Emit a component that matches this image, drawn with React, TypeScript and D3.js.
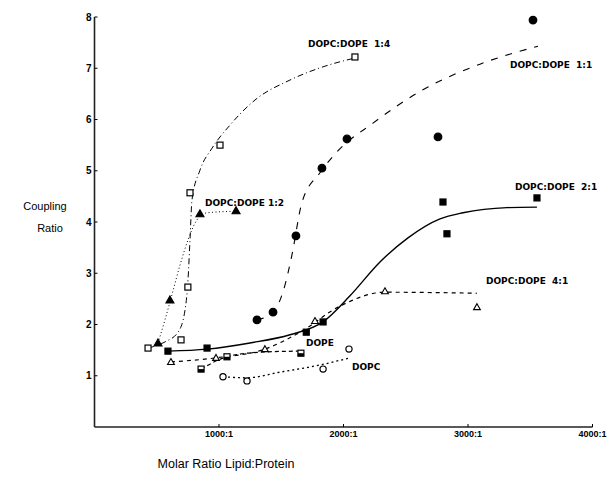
import React from "react";
import * as d3 from "d3";

// ---- data ----
// x = lipid:protein molar ratio, y = coupling ratio
type P = [number, number];

// measured points
const ptsR14: P[] = [[430, 1.54], [695, 1.7], [750, 2.73], [767, 4.57], [1008, 5.5], [2092, 7.22]];
const ptsR12: P[] = [[510, 1.64], [606, 2.48], [847, 4.16], [1137, 4.22]];
const ptsR11: P[] = [[1305, 2.09], [1434, 2.24], [1618, 3.73], [1827, 5.05], [2028, 5.62], [2759, 5.66], [3522, 7.94]];
const ptsR21: P[] = [[590, 1.48], [904, 1.54], [1701, 1.85], [1836, 2.05], [2799, 4.39], [2831, 3.77], [3554, 4.47]];
const ptsR41: P[] = [[614, 1.27], [976, 1.35], [1369, 1.52], [1771, 2.07], [2333, 2.65], [3072, 2.34]];
const ptsDOPE: P[] = [[856, 1.13], [1064, 1.37], [1658, 1.44]];
const ptsDOPC: P[] = [[1032, 0.98], [1225, 0.9], [1836, 1.13], [2044, 1.52]];

// hand-fitted curves
const fitR14: P[] = [[430, 1.54], [566, 1.66], [671, 1.85], [727, 2.28], [751, 2.87], [767, 3.65], [783, 4.43], [847, 5.01], [944, 5.44], [1088, 5.89], [1289, 6.38], [1570, 6.77], [1851, 7.04], [2092, 7.2]];
const fitR12: P[] = [[510, 1.64], [566, 2.09], [622, 2.58], [687, 3.16], [751, 3.65], [823, 4.04], [904, 4.18], [1137, 4.21]];
const fitR11: P[] = [[1305, 2.09], [1434, 2.24], [1530, 2.77], [1586, 3.36], [1667, 4.39], [1811, 4.96], [1948, 5.37], [2237, 5.93], [2638, 6.58], [3096, 7.08], [3562, 7.43]];
const fitR21: P[] = [[590, 1.48], [904, 1.52], [1249, 1.64], [1570, 1.8], [1835, 2.05], [2052, 2.56], [2293, 3.22], [2518, 3.69], [2775, 4.06], [2960, 4.18], [3313, 4.28], [3554, 4.29]];
const fitR41: P[] = [[614, 1.27], [976, 1.35], [1369, 1.52], [1651, 1.85], [1972, 2.36], [2333, 2.63], [3072, 2.61]];
const fitDOPE: P[] = [[856, 1.13], [1064, 1.37], [1329, 1.46], [1634, 1.48]];
const fitDOPC: P[] = [[1032, 0.98], [1225, 0.96], [1490, 1.07], [1811, 1.21], [2052, 1.35]];

const yTicks = [1, 2, 3, 4, 5, 6, 7, 8];
const xTicks = [1000, 2000, 3000, 4000];
const xTickLabels = ["1000:1", "2000:1", "3000:1", "4000:1"];

const W = 616;
const H = 480;
const LABEL_FONT = "'DejaVu Sans', sans-serif";
const AXIS_FONT = "'Liberation Sans', Arial, sans-serif";

const x = d3.scaleLinear().domain([0, 4000]).range([94.5, 592.5]);
const y = d3.scaleLinear().domain([0, 8]).range([427, 17]);
const line = d3
  .line<P>()
  .x((d) => x(d[0]))
  .y((d) => y(d[1]))
  .curve(d3.curveMonotoneX);

const Square = ({ d, fill }: { d: P; fill: string }) => (
  <rect x={x(d[0]) - 3} y={y(d[1]) - 3} width={6} height={6} fill={fill} stroke="#000" strokeWidth={1.2} />
);
const Circle = ({ d, fill }: { d: P; fill: string }) => (
  <circle cx={x(d[0])} cy={y(d[1])} r={fill === "#000" ? 3.8 : 3.1} fill={fill} stroke="#000" strokeWidth={1.2} />
);
const Tri = ({ d, fill }: { d: P; fill: string }) => {
  const cx = x(d[0]);
  const cy = y(d[1]);
  const s = fill === "#000" ? 4 : 3.4;
  return (
    <path
      d={`M${cx},${cy - s}L${cx + s},${cy + s * 0.75}L${cx - s},${cy + s * 0.75}Z`}
      fill={fill}
      stroke="#000"
      strokeWidth={1.1}
    />
  );
};
const HalfSquare = ({ d }: { d: P }) => {
  const cx = x(d[0]);
  const cy = y(d[1]);
  return (
    <g>
      <rect x={cx - 3} y={cy - 3} width={6} height={6} fill="#fff" stroke="#000" strokeWidth={1.2} />
      <rect x={cx - 3} y={cy} width={6} height={3} fill="#000" />
    </g>
  );
};

const Label = ({ tx, ty, text }: { tx: number; ty: number; text: string }) => (
  <text x={tx} y={ty} fontFamily={LABEL_FONT} fontWeight="bold" fontSize={9} fill="#000" style={{ whiteSpace: "pre" }}>
    {text}
  </text>
);

export default function App() {
  return (
    <svg width={W} height={H} style={{ position: "absolute", left: 0, top: 0, background: "#fff" }}>
      {/* axes */}
      <line x1={x(0)} x2={x(0)} y1={y(0)} y2={y(8)} stroke="#222" strokeWidth={1.6} />
      <line x1={x(0)} x2={x(4000)} y1={y(0)} y2={y(0)} stroke="#222" strokeWidth={1.6} />
      {yTicks.map((t) => (
        <g key={t}>
          <line x1={x(0)} x2={x(0) + 3} y1={y(t)} y2={y(t)} stroke="#000" strokeWidth={1} />
          <text x={x(0) - 3} y={y(t) + 3.5} textAnchor="end" fontFamily={AXIS_FONT} fontWeight="bold" fontSize={10}>
            {t}
          </text>
        </g>
      ))}
      {xTicks.map((t, i) => (
        <g key={t}>
          <line x1={x(t)} x2={x(t)} y1={y(0)} y2={y(0) - 3} stroke="#000" strokeWidth={1} />
          <text x={x(t)} y={y(0) + 10} textAnchor="middle" fontFamily={AXIS_FONT} fontWeight="bold" fontSize={9}>
            {xTickLabels[i]}
          </text>
        </g>
      ))}
      <text x={45} y={210} textAnchor="middle" fontFamily={AXIS_FONT} fontSize={11}>Coupling</text>
      <text x={50} y={232} textAnchor="middle" fontFamily={AXIS_FONT} fontSize={11}>Ratio</text>
      <text x={226} y={468} textAnchor="middle" fontFamily={AXIS_FONT} fontSize={12.5}>Molar Ratio  Lipid:Protein</text>

      {/* fitted curves */}
      <g fill="none" stroke="#000">
        <path d={line(fitR14) || ""} strokeWidth={1} strokeDasharray="6,3,1,3" />
        <path d={line(fitR12) || ""} strokeWidth={1} strokeDasharray="1,2.5" />
        <path d={line(fitR11) || ""} strokeWidth={1.1} strokeDasharray="7,8" />
        <path d={line(fitR21) || ""} strokeWidth={1.4} />
        <path d={line(fitR41) || ""} strokeWidth={1.2} strokeDasharray="4,4" />
        <path d={line(fitDOPE) || ""} strokeWidth={1.2} strokeDasharray="4,3" />
        <path d={line(fitDOPC) || ""} strokeWidth={1.3} strokeDasharray="2,3" />
      </g>

      {/* points */}
      {ptsR14.map((d, i) => <Square key={"a" + i} d={d} fill="#fff" />)}
      {ptsR12.map((d, i) => <Tri key={"b" + i} d={d} fill="#000" />)}
      {ptsR11.map((d, i) => <Circle key={"c" + i} d={d} fill="#000" />)}
      {ptsR21.map((d, i) => <Square key={"e" + i} d={d} fill="#000" />)}
      {ptsR41.map((d, i) => <Tri key={"f" + i} d={d} fill="#fff" />)}
      {ptsDOPE.map((d, i) => <HalfSquare key={"g" + i} d={d} />)}
      {ptsDOPC.map((d, i) => <Circle key={"h" + i} d={d} fill="#fff" />)}

      {/* curve labels */}
      <Label tx={308} ty={47} text="DOPC:DOPE  1:4" />
      <Label tx={510} ty={68} text="DOPC:DOPE  1:1" />
      <Label tx={515} ty={190} text="DOPC:DOPE  2:1" />
      <Label tx={205} ty={206} text="DOPC:DOPE 1:2" />
      <Label tx={486} ty={284} text="DOPC:DOPE  4:1" />
      <Label tx={306} ty={346} text="DOPE" />
      <Label tx={352} ty={370} text="DOPC" />
    </svg>
  );
}
